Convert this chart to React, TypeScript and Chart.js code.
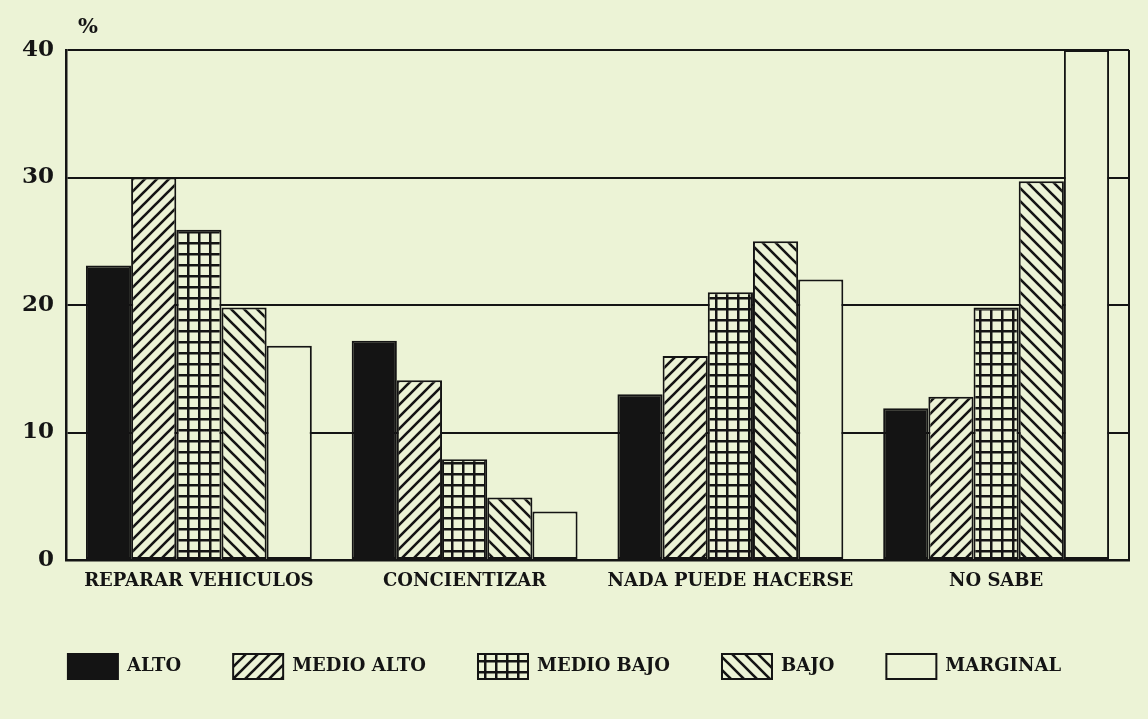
import React, { useEffect, useRef } from "react";
import { Chart, registerables } from "chart.js";

Chart.register(...registerables);

// ---- data ----
const categories = ["REPARAR VEHICULOS", "CONCIENTIZAR", "NADA PUEDE HACERSE", "NO SABE"];
const seriesLabels = ["ALTO", "MEDIO ALTO", "MEDIO BAJO", "BAJO", "MARGINAL"];
const alto = [23.1, 17.2, 13.0, 11.9];
const medioAlto = [30.0, 14.1, 16.0, 12.8];
const medioBajo = [25.9, 7.9, 21.0, 19.8];
const bajo = [19.8, 4.9, 25.0, 29.7];
const marginal = [16.8, 3.8, 22.0, 40.0];
const yTicks = [0, 10, 20, 30, 40];
const unitLabel = "%";

const PAPER = "#ecf3d6";
const INK = "#141414";
const FONT = "'DejaVu Serif', 'Liberation Serif', serif";

function makePattern(kind: "fwd" | "back" | "grid"): CanvasPattern | string {
  const c = document.createElement("canvas");
  const s = kind === "grid" ? 11 : kind === "fwd" ? 12 : 13;
  c.width = s;
  c.height = s;
  const g = c.getContext("2d");
  if (!g) return PAPER;
  g.fillStyle = PAPER;
  g.fillRect(0, 0, s, s);
  g.strokeStyle = INK;
  g.fillStyle = INK;
  g.lineWidth = 2.6;
  if (kind === "fwd") {
    g.beginPath();
    g.moveTo(-1, s + 1);
    g.lineTo(s + 1, -1);
    g.moveTo(-2, 2);
    g.lineTo(2, -2);
    g.moveTo(s - 2, s + 2);
    g.lineTo(s + 2, s - 2);
    g.stroke();
  } else if (kind === "back") {
    g.beginPath();
    g.moveTo(-1, -1);
    g.lineTo(s + 1, s + 1);
    g.moveTo(-2, s - 2);
    g.lineTo(2, s + 2);
    g.moveTo(s - 2, -2);
    g.lineTo(s + 2, 2);
    g.stroke();
  } else {
    g.fillRect(0, 0, s, 2.5);
    g.fillRect(0, 0, 2.5, s);
  }
  return g.createPattern(c, "repeat") || PAPER;
}

const paperPlugin = {
  id: "paperPlugin",
  beforeDraw(chart: any) {
    const ctx = chart.ctx;
    ctx.save();
    ctx.fillStyle = PAPER;
    ctx.fillRect(0, 0, chart.width, chart.height);
    ctx.restore();
  },
  beforeDatasetsDraw(chart: any) {
    const { ctx, chartArea: a } = chart;
    ctx.save();
    ctx.strokeStyle = INK;
    ctx.lineWidth = 2;
    ctx.beginPath();
    ctx.moveTo(a.right, a.top);
    ctx.lineTo(a.right, a.bottom);
    ctx.stroke();
    ctx.restore();
  },
  afterDraw(chart: any) {
    const { ctx, chartArea: a } = chart;
    ctx.save();
    ctx.fillStyle = INK;
    ctx.font = `bold 21px ${FONT}`;
    ctx.textAlign = "left";
    ctx.textBaseline = "middle";
    ctx.fillText(unitLabel, a.left + 12, a.top - 22);
    ctx.restore();
  },
};

export default function App() {
  const ref = useRef<HTMLCanvasElement | null>(null);

  useEffect(() => {
    document.body.style.margin = "0";
    document.body.style.background = PAPER;
    const canvas = ref.current;
    if (!canvas) return;
    const fills = [INK, makePattern("fwd"), makePattern("grid"), makePattern("back"), PAPER];
    const values = [alto, medioAlto, medioBajo, bajo, marginal];
    const chart = new Chart(canvas, {
      type: "bar",
      data: {
        labels: categories,
        datasets: seriesLabels.map((label, i) => ({
          label,
          data: values[i],
          backgroundColor: fills[i] as any,
          borderColor: INK,
          borderWidth: 2,
          borderSkipped: false,
          categoryPercentage: 0.85,
          barPercentage: 1.0,
        })),
      },
      options: {
        responsive: false,
        animation: false,
        layout: { padding: { top: 50, right: 19, bottom: 30, left: 0 } },
        plugins: {
          tooltip: { enabled: false },
          legend: {
            position: "bottom",
            labels: {
              boxWidth: 50,
              boxHeight: 25,
              padding: 52,
              color: INK,
              font: { family: FONT, size: 18, weight: "bold" },
            },
          },
        },
        scales: {
          x: {
            grid: { display: false, drawTicks: false },
            border: { display: true, color: INK, width: 2.5 },
            ticks: {
              color: INK,
              padding: 11,
              maxRotation: 0,
              autoSkip: false,
              font: { family: FONT, size: 18, weight: "bold" },
            },
            afterFit: (s: any) => {
              s.height = 42;
            },
          },
          y: {
            min: yTicks[0],
            max: yTicks[yTicks.length - 1],
            afterBuildTicks: (s: any) => {
              s.ticks = yTicks.map((v) => ({ value: v }));
            },
            grid: { color: INK, lineWidth: 2, drawTicks: false },
            border: { display: true, color: INK, width: 2.5 },
            ticks: {
              color: INK,
              padding: 12,
              font: { family: FONT, size: 23, weight: "bold" },
            },
            afterFit: (s: any) => {
              s.width = 66;
            },
          },
        },
      },
      plugins: [paperPlugin],
    });
    return () => chart.destroy();
  }, []);

  return (
    <div style={{ width: 1148, height: 719, background: PAPER }}>
      <canvas ref={ref} width={1148} height={719} style={{ display: "block" }} />
    </div>
  );
}
